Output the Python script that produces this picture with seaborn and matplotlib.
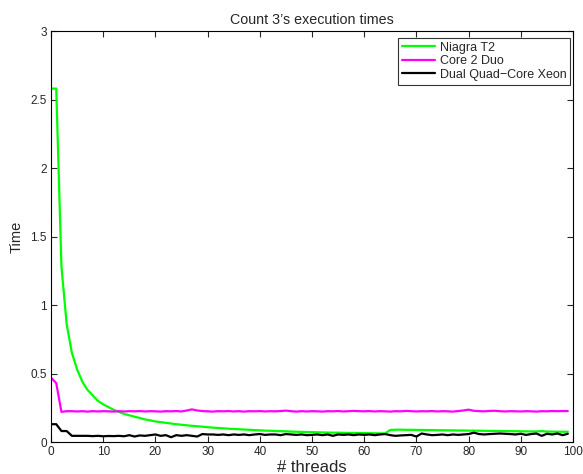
import matplotlib
matplotlib.use("Agg")
import matplotlib.pyplot as plt
import seaborn as sns
import pandas as pd

threads = list(range(100))

niagra_t2 = [2.58, 2.58, 1.28, 0.86, 0.65, 0.53, 0.44, 0.38, 0.34, 0.30,
             0.275, 0.255, 0.235, 0.22, 0.205, 0.195, 0.185, 0.175, 0.165, 0.158,
             0.150, 0.145, 0.140, 0.135, 0.130, 0.126, 0.122, 0.118, 0.115, 0.112,
             0.108, 0.105, 0.102, 0.100, 0.097, 0.095, 0.093, 0.091, 0.089, 0.087,
             0.085, 0.083, 0.082, 0.080, 0.079, 0.078, 0.076, 0.075, 0.074, 0.073,
             0.072, 0.071, 0.070, 0.069, 0.068, 0.068, 0.067, 0.066, 0.066, 0.065,
             0.065, 0.064, 0.064, 0.063, 0.063, 0.088, 0.090, 0.090, 0.089, 0.089,
             0.088, 0.088, 0.087, 0.087, 0.086, 0.086, 0.085, 0.085, 0.084, 0.084,
             0.083, 0.083, 0.082, 0.082, 0.081, 0.081, 0.080, 0.080, 0.079, 0.079,
             0.078, 0.078, 0.077, 0.077, 0.080, 0.076, 0.076, 0.075, 0.075, 0.075]

core2_duo = [0.47, 0.43, 0.22, 0.225, 0.225, 0.223, 0.225, 0.222, 0.225, 0.223,
             0.225, 0.224, 0.222, 0.225, 0.223, 0.225, 0.224, 0.226, 0.223, 0.225,
             0.224, 0.222, 0.225, 0.224, 0.226, 0.223, 0.230, 0.238, 0.230, 0.226,
             0.224, 0.222, 0.225, 0.224, 0.226, 0.223, 0.225, 0.222, 0.225, 0.224,
             0.226, 0.223, 0.225, 0.224, 0.226, 0.229, 0.225, 0.222, 0.225, 0.223,
             0.225, 0.224, 0.222, 0.225, 0.224, 0.226, 0.223, 0.225, 0.227, 0.225,
             0.224, 0.226, 0.223, 0.225, 0.224, 0.222, 0.225, 0.224, 0.227, 0.225,
             0.223, 0.225, 0.224, 0.226, 0.223, 0.225, 0.224, 0.222, 0.226, 0.230,
             0.236, 0.228, 0.225, 0.224, 0.227, 0.228, 0.225, 0.223, 0.225, 0.224,
             0.223, 0.225, 0.224, 0.222, 0.225, 0.224, 0.226, 0.225, 0.226, 0.226]

dual_quad_xeon = [0.13, 0.13, 0.08, 0.08, 0.045, 0.045, 0.045, 0.045, 0.043, 0.045,
                  0.042, 0.044, 0.043, 0.045, 0.042, 0.050, 0.040, 0.048, 0.045, 0.050,
                  0.055, 0.045, 0.050, 0.035, 0.050, 0.045, 0.050, 0.045, 0.040, 0.058,
                  0.055, 0.055, 0.052, 0.055, 0.050, 0.055, 0.052, 0.055, 0.050, 0.055,
                  0.058, 0.052, 0.055, 0.055, 0.050, 0.058, 0.055, 0.052, 0.055, 0.050,
                  0.052, 0.055, 0.050, 0.055, 0.045, 0.055, 0.052, 0.055, 0.050, 0.055,
                  0.052, 0.055, 0.050, 0.055, 0.058, 0.050, 0.045, 0.048, 0.050, 0.052,
                  0.040, 0.062, 0.055, 0.050, 0.052, 0.055, 0.050, 0.055, 0.052, 0.055,
                  0.058, 0.068, 0.058, 0.055, 0.058, 0.060, 0.062, 0.060, 0.058, 0.055,
                  0.060, 0.052, 0.058, 0.062, 0.045, 0.060, 0.055, 0.062, 0.050, 0.060]

series_names = ["Niagra T2", "Core 2 Duo", "Dual Quad\u2212Core Xeon"]
colors = ["#00ff00", "#ff00ff", "#000000"]

df = pd.concat([
    pd.DataFrame({"threads": threads, "time": vals, "machine": name})
    for name, vals in zip(series_names, [niagra_t2, core2_duo, dual_quad_xeon])
])

sns.set_style("ticks")
plt.rcParams["font.family"] = ["Liberation Sans", "DejaVu Sans"]

fig = plt.figure(figsize=(5.83, 4.74), dpi=100)
ax = fig.add_axes([0.0875, 0.0675, 0.8954, 0.867])

sns.lineplot(data=df, x="threads", y="time", hue="machine",
             palette=dict(zip(series_names, colors)), linewidth=1.6,
             ax=ax, legend=True)

ax.set_xlim(0, 100)
ax.set_ylim(0, 3)
ax.set_xticks(range(0, 101, 10))
ax.set_yticks([0, 0.5, 1, 1.5, 2, 2.5, 3])
ax.set_yticklabels(["0", "0.5", "1", "1.5", "2", "2.5", "3"])
ax.tick_params(direction="in", top=True, right=True, labelsize=8.5, length=4,
               width=0.8, pad=3)
for s in ax.spines.values():
    s.set_visible(True)
    s.set_linewidth(0.8)
    s.set_color("black")

ax.set_title("Count 3\u2019s execution times", fontsize=10.3, pad=5)
ax.set_xlabel("# threads", fontsize=12, labelpad=1)
ax.set_ylabel("Time", fontsize=10.5, labelpad=5)

leg = ax.legend(loc="upper right", bbox_to_anchor=(1 - 3 / 522, 1 - 7 / 411),
                fontsize=9, frameon=True, fancybox=False,
                edgecolor="black", borderaxespad=0, handlelength=2.6,
                labelspacing=0.12, borderpad=0.3, handletextpad=0.4)
leg.get_frame().set_linewidth(0.8)

fig.savefig("out.png", dpi=100)
